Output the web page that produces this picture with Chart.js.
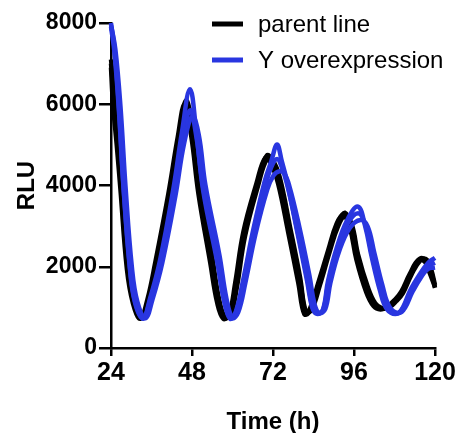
<!DOCTYPE html>
<html>
<head>
<meta charset="utf-8">
<script src="https://cdn.jsdelivr.net/npm/chart.js@4/dist/chart.umd.min.js"></script>
<style>
  html, body { margin: 0; padding: 0; background: #fff; }
  #chart { display: block; }
</style>
</head>
<body>
<canvas id="chart" width="463" height="433"></canvas>
<script>
// time points (h)
const parentHours = [24, 25, 26.3, 27.3, 29.2, 31, 33.2, 35.3, 37.6, 41.5, 44.3, 46.3, 48.3, 50.4, 53.9, 56, 57.8, 59.5, 61.3, 63.7, 67.6, 70.2, 72, 74, 77, 80, 81.8, 83.5, 85.9, 88.9, 91.3, 93.3, 95.3, 97.2, 100.1, 102.3, 104.3, 106.5, 108.5, 110.5, 113, 115.6, 117.5, 118.8, 120];
const parentHoursEarly = [24, 24.6, 25.8, 26.8, 28.7, 30.5, 32.7, 34.8, 37.1, 41, 43.8, 45.8, 47.8, 49.9, 53.4, 55.5, 57.3, 59, 60.8, 63.2, 67.1, 69.7, 71.5, 73.5, 76.5, 79.5, 81.3, 83, 85.4, 88.4, 90.8, 92.8, 94.8, 96.7, 99.6, 101.8, 103.8, 106, 108, 110, 112.5, 115.1, 117, 118.3, 120];
const blueHours = [24, 25, 26.3, 27.7, 29.6, 31.1, 33.5, 35.6, 38.5, 42.4, 45, 47.4, 49.3, 51.3, 55.4, 57.5, 59.3, 61, 63.1, 66.1, 69.6, 71.5, 73.2, 74.6, 76.1, 79.1, 82.1, 83.6, 85, 86.8, 88.3, 90.9, 94, 97.2, 99.3, 101.3, 103.7, 105.8, 108.7, 110.5, 112.6, 115.6, 118, 120];
const blueHoursLate = [24, 25.3, 26.8, 28.3, 30.2, 31.8, 34.2, 36.3, 39.2, 43.1, 45.7, 48.1, 50, 52, 56.1, 58.2, 60, 61.7, 63.8, 66.8, 70.3, 72.2, 73.9, 75.3, 76.8, 79.8, 82.8, 84.3, 85.7, 87.5, 89, 91.6, 94.7, 97.9, 100, 102, 104.4, 106.5, 109.4, 111.2, 113.3, 116.3, 118.7, 120];

// parent line replicates (RLU)
const parent1 = [7000, 6100, 5000, 4000, 2000, 1150, 740, 1250, 2150, 3880, 5300, 6100, 5300, 3880, 2150, 1150, 740, 850, 1650, 2890, 4120, 4740, 4600, 4120, 2890, 1650, 840, 1000, 1650, 2470, 3100, 3330, 3000, 2220, 1410, 1050, 960, 1050, 1200, 1410, 1850, 2200, 2150, 1900, 1480];
const parent2 = [7100, 6300, 5200, 4200, 2150, 1200, 760, 1150, 2000, 3700, 5100, 5950, 5450, 4050, 2300, 1200, 760, 820, 1500, 2750, 4000, 4650, 4600, 4200, 3000, 1750, 880, 950, 1550, 2400, 3000, 3250, 3050, 2300, 1500, 1100, 980, 1000, 1150, 1350, 1800, 2150, 2180, 1950, 1550];
const parent3 = [6900, 6000, 4900, 3900, 1950, 1100, 720, 1200, 2100, 3800, 5200, 6000, 5200, 3800, 2100, 1100, 720, 830, 1600, 2850, 4050, 4680, 4520, 4050, 2850, 1600, 830, 980, 1600, 2420, 3050, 3280, 2950, 2180, 1380, 1030, 950, 1030, 1180, 1390, 1820, 2170, 2120, 1870, 1500];

// Y overexpression replicates (RLU)
const yOver1 = [8000, 7400, 6000, 4000, 2000, 1160, 740, 1230, 2150, 3880, 5300, 6370, 5300, 3880, 2150, 1160, 720, 900, 1650, 2890, 4120, 4600, 5010, 4600, 4120, 2890, 1650, 1000, 840, 950, 1650, 2470, 3150, 3480, 3000, 2220, 1410, 950, 840, 1000, 1410, 1830, 2100, 2220];
const yOver2 = [7900, 7300, 5900, 3950, 1950, 1120, 720, 1180, 2050, 3700, 5000, 5850, 5200, 3950, 2250, 1200, 730, 870, 1550, 2750, 3950, 4450, 4650, 4450, 4050, 2950, 1750, 1050, 850, 930, 1550, 2400, 3050, 3320, 3050, 2300, 1500, 1000, 850, 980, 1350, 1750, 1950, 1980];
const yOver3 = [7950, 7350, 5950, 3980, 1980, 1140, 730, 1200, 2100, 3750, 5050, 5700, 5250, 4000, 2300, 1220, 740, 880, 1600, 2800, 3900, 4250, 4350, 4300, 4000, 2980, 1780, 1080, 860, 960, 1600, 2380, 2950, 3150, 3000, 2350, 1550, 1020, 860, 1000, 1380, 1800, 2050, 2100];

const legendNames = ['parent line', 'Y overexpression'];
const BLACK = '#000000';
const BLUE = '#2936e0';

Chart.defaults.font.family = '"Liberation Sans", Arial, sans-serif';
Chart.defaults.color = '#000';

function series(hours, vals, color, order) {
    return {
        data: hours.map((h, i) => ({ x: h, y: vals[i] })),
        borderColor: color, borderWidth: 4.5, pointRadius: 0,
        tension: 0.4, fill: false, clip: false, order,
    };
}

// legend in the top right corner, drawn over the plot
const cornerLegend = {
    id: 'cornerLegend',
    afterDraw(chart) {
        const ctx = chart.ctx;
        const rows = [[legendNames[0], BLACK, 24], [legendNames[1], BLUE, 60]];
        ctx.save();
        rows.forEach(([txt, c, y]) => {
            ctx.beginPath(); ctx.moveTo(212, y); ctx.lineTo(243, y);
            ctx.lineWidth = 5; ctx.strokeStyle = c; ctx.stroke();
            ctx.fillStyle = '#000';
            ctx.font = '24px "Liberation Sans", Arial, sans-serif';
            ctx.textAlign = 'left'; ctx.textBaseline = 'middle';
            ctx.fillText(txt, 258, y + 1);
        });
        ctx.restore();
    }
};

new Chart(document.getElementById('chart'), {
    type: 'line',
    data: {
        datasets: [
            series(parentHours, parent1, BLACK, 1),
            series(parentHours, parent2, BLACK, 1),
            series(parentHoursEarly, parent3, BLACK, 1),
            series(blueHours, yOver1, BLUE, 0),
            series(blueHours, yOver2, BLUE, 0),
            series(blueHoursLate, yOver3, BLUE, 0),
        ],
    },
    options: {
        responsive: false,
        animation: false,
        layout: { padding: { top: 23, right: 28, left: 0, bottom: 0 } },
        plugins: { legend: { display: false }, tooltip: { enabled: false } },
        scales: {
            x: {
                type: 'linear', min: 24, max: 120,
                afterFit: (s) => { s.height = 85; },
                ticks: { stepSize: 24, padding: 2, color: '#000', font: { size: 25, weight: 'bold' }, callback: (v) => String(v) },
                grid: { drawOnChartArea: false, drawTicks: true, tickLength: 8, color: '#000', lineWidth: 2.5 },
                border: { color: '#000', width: 2.5 },
                title: { display: true, text: 'Time (h)', color: '#000', font: { size: 24, weight: 'bold' }, padding: { top: 0, bottom: -4 } },
            },
            y: {
                min: 0, max: 8000,
                afterFit: (s) => { s.width = 111; },
                ticks: { stepSize: 2000, padding: 2, color: '#000', font: { size: 23, weight: 'bold' }, callback: (v) => String(v) },
                grid: { drawOnChartArea: false, drawTicks: true, tickLength: 12, color: '#000', lineWidth: 2.5 },
                border: { color: '#000', width: 2.5 },
                title: { display: true, text: 'RLU', color: '#000', font: { size: 24, weight: 'bold' }, padding: { top: 13, bottom: 0 } },
            },
        },
    },
    plugins: [cornerLegend],
});
</script>
</body>
</html>
